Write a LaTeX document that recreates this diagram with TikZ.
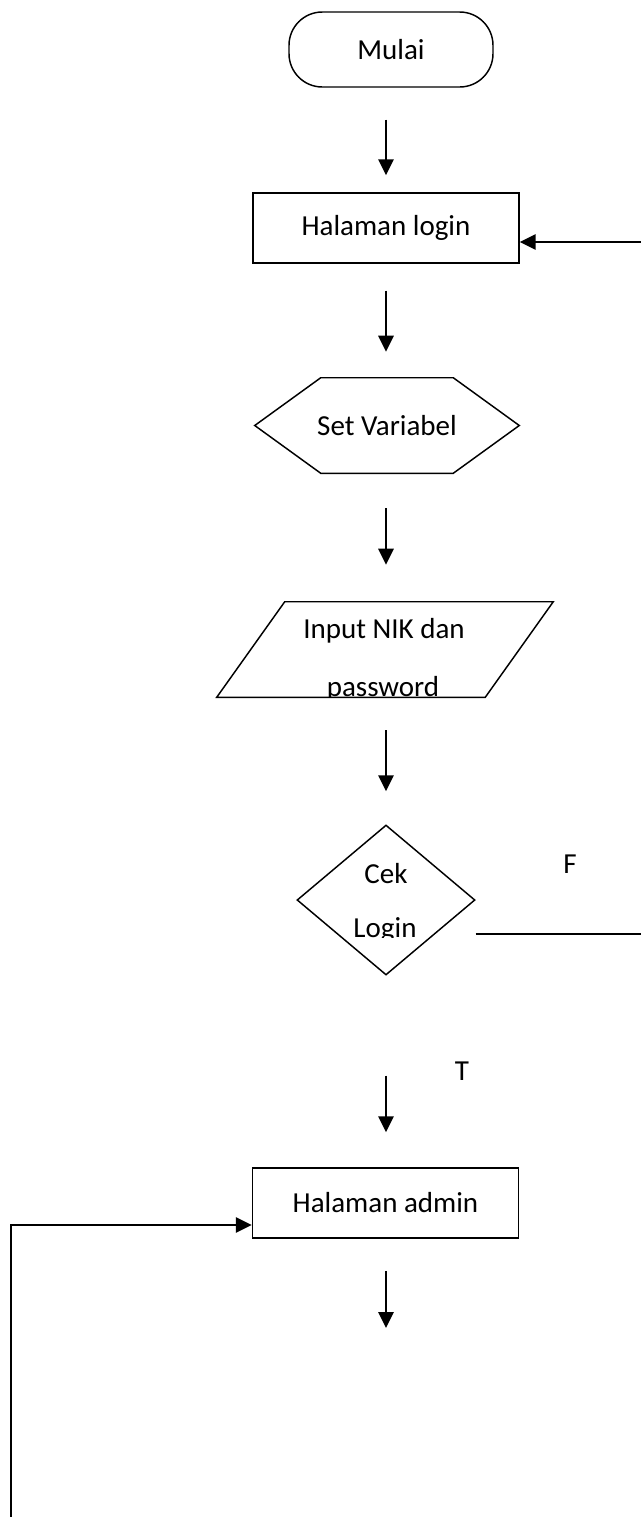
\documentclass[tikz,border=0pt]{standalone}
\usepackage{fontspec}
\setmainfont{Carlito}
\usepackage{tikz}
\usetikzlibrary{arrows.meta,positioning,shapes.geometric}
\newcommand{\flowfont}{\fontsize{21.75}{26}\selectfont}

\begin{document}
\begin{tikzpicture}[x=0.75pt,y=-0.75pt,
term/.style={draw,line width=1.1pt,rounded corners=25pt,minimum width=153pt,minimum height=56.25pt,font=\flowfont},
proc/.style={draw,line width=1.1pt,minimum width=199.5pt,minimum height=52.5pt,font=\flowfont},
txt/.style={font=\flowfont,anchor=base,inner sep=0pt},
edge/.style={line width=1.1pt},
arr/.style={line width=1.3pt,-{Triangle[length=12pt,width=11.5pt]}}
]
\useasboundingbox (0,0) rectangle (641,1517);
\node[term] (mulai) at (391,49.5) {Mulai};
\node[proc] (login) at (386,228) {Halaman login};
\node[font=\flowfont,minimum width=198pt,minimum height=71.25pt] (setvar) at (387,425.5) {Set Variabel};
\draw[edge] (setvar.west) -- ([xshift=49.5pt]setvar.north west) -- ([xshift=-49.5pt]setvar.north east) -- (setvar.east) -- ([xshift=-49.5pt]setvar.south east) -- ([xshift=49.5pt]setvar.south west) -- cycle;
\node[minimum width=252pt,minimum height=71.25pt] (input) at (385,649.5) {};
\draw[edge] ([xshift=51pt]input.north west) -- (input.north east) -- ([xshift=-51pt]input.south east) -- (input.south west) -- cycle;
\begin{scope}
\clip (0,0) rectangle (641,696);
\node[txt] (inp1) at (384,638) {Input NIK dan};
\node[txt] (inp2) at (383,696) {password};
\end{scope}
\node[draw,diamond,line width=1.1pt,minimum width=133.5pt,minimum height=112.5pt,inner sep=0pt] (cek) at (386,900) {};
\begin{scope}
\clip (0,0) rectangle (641,937);
\node[txt] (cek1) at (386,883) {Cek};
\node[txt] (cek2) at (385,937) {Login};
\end{scope}
\node[txt] (f) at (570,873) {F};
\node[txt] (t) at (462,1080) {T};
\node[proc] (admin) at (385.5,1203) {Halaman admin};
\coordinate (fout) at (641,934);
\coordinate (back) at (641,242);
\coordinate (loop) at (11,1517);
\coordinate (stop) at (386,1328);
\draw[arr,shorten <=24pt,shorten >=12.75pt] (mulai.south -| login.north) -- (login.north);
\draw[arr,shorten <=20.25pt,shorten >=19.5pt] (login.south) -- (setvar.north -| login.south);
\draw[arr,shorten <=26.25pt,shorten >=27.75pt] (setvar.south -| login.south) -- (input.north -| login.south);
\draw[arr,shorten <=24.75pt,shorten >=24.75pt] (input.south -| login.south) -- (cek.north -| login.south);
\draw[arr,shorten <=75pt,shorten >=26.25pt] (cek.south -| login.south) -- (admin.north -| login.south);
\draw[arr,shorten <=24pt] (admin.south -| login.south) -- (stop);
\draw[arr] (back) -- (back -| login.east);
\draw[edge] (cek.east |- fout) -- (fout);
\draw[arr] (loop) |- ([yshift=-16.5pt]admin.west);
\end{tikzpicture}
\end{document}
